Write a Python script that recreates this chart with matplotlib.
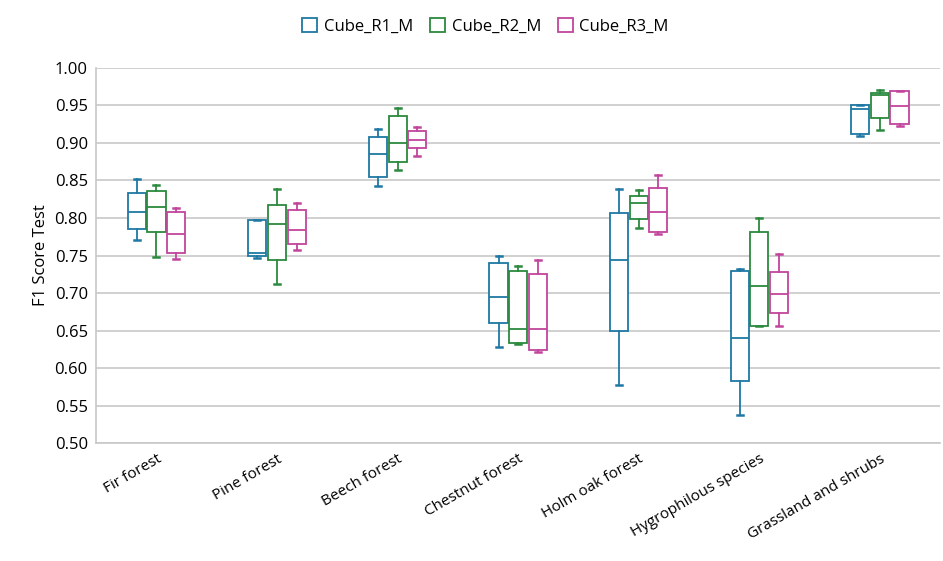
import numpy as np
import matplotlib.pyplot as plt
from matplotlib.patches import Patch

plt.rcParams['font.family'] = ['Open Sans', 'DejaVu Sans']

categories = ["Fir forest", "Pine forest", "Beech forest", "Chestnut forest",
              "Holm oak forest", "Hygrophilous species", "Grassland and shrubs"]
series = ["Cube_R1_M", "Cube_R2_M", "Cube_R3_M"]
colors = ["#1f78a4", "#2b8a3e", "#c2459c"]

# whisker low, Q1, median, Q3, whisker high
r1_lo  = [0.771, 0.747, 0.842, 0.628, 0.578, 0.538, 0.909]
r1_q1  = [0.785, 0.749, 0.855, 0.660, 0.649, 0.583, 0.912]
r1_med = [0.808, 0.753, 0.885, 0.695, 0.744, 0.640, 0.945]
r1_q3  = [0.833, 0.797, 0.908, 0.740, 0.807, 0.729, 0.951]
r1_hi  = [0.852, 0.797, 0.919, 0.749, 0.839, 0.732, 0.951]

r2_lo  = [0.748, 0.712, 0.864, 0.632, 0.787, 0.656, 0.917]
r2_q1  = [0.781, 0.744, 0.874, 0.633, 0.799, 0.656, 0.933]
r2_med = [0.814, 0.792, 0.900, 0.652, 0.820, 0.710, 0.964]
r2_q3  = [0.836, 0.817, 0.936, 0.729, 0.829, 0.781, 0.967]
r2_hi  = [0.844, 0.838, 0.946, 0.736, 0.837, 0.800, 0.970]

r3_lo  = [0.745, 0.757, 0.883, 0.621, 0.779, 0.656, 0.922]
r3_q1  = [0.754, 0.765, 0.893, 0.624, 0.781, 0.673, 0.925]
r3_med = [0.779, 0.784, 0.904, 0.652, 0.808, 0.699, 0.949]
r3_q3  = [0.808, 0.810, 0.916, 0.725, 0.840, 0.728, 0.969]
r3_hi  = [0.813, 0.820, 0.921, 0.744, 0.857, 0.752, 0.969]

all_series = [
    (r1_lo, r1_q1, r1_med, r1_q3, r1_hi),
    (r2_lo, r2_q1, r2_med, r2_q3, r2_hi),
    (r3_lo, r3_q1, r3_med, r3_q3, r3_hi),
]

fig = plt.figure(figsize=(9.43, 5.61), dpi=100)
ax = fig.add_axes([0.102, 0.21, 0.895, 0.669])

x = np.arange(len(categories))
offsets = [-0.163, 0, 0.163]
for s, (lo, q1, med, q3, hi) in enumerate(all_series):
    stats = [dict(whislo=lo[i], q1=q1[i], med=med[i], q3=q3[i], whishi=hi[i], fliers=[])
             for i in range(len(categories))]
    c = colors[s]
    ax.bxp(stats, positions=x + offsets[s], widths=0.15, capwidths=0.05,
           showfliers=False, patch_artist=True,
           boxprops=dict(facecolor="white", edgecolor=c, linewidth=1.3),
           medianprops=dict(color=c, linewidth=1.3),
           whiskerprops=dict(color=c, linewidth=1.3),
           capprops=dict(color=c, linewidth=1.8))

ax.set_xlim(-0.5, len(categories) - 0.5)
ax.set_ylim(0.5, 1.0)
ax.set_yticks(np.arange(0.5, 1.001, 0.05))
ax.set_yticklabels([f"{v:.2f}" for v in np.arange(0.5, 1.001, 0.05)], fontsize=12)
ax.set_xticks(x)
ax.set_xticklabels(categories, rotation=30, ha="right", rotation_mode="anchor", fontsize=11)
ax.tick_params(axis="both", length=0, pad=6)
ax.grid(axis="y", color="#c8c8c8", linewidth=1.2)
ax.set_axisbelow(True)
for side in ["top", "right"]:
    ax.spines[side].set_visible(False)
ax.spines["left"].set_color("#c8c8c8")
ax.spines["bottom"].set_color("#c8c8c8")
ax.spines["left"].set_linewidth(1.2)
ax.spines["bottom"].set_linewidth(1.2)
ax.set_ylabel("F1 Score Test", fontsize=12)

handles = [Patch(facecolor="white", edgecolor=c, linewidth=1.3, label=n) for n, c in zip(series, colors)]
fig.legend(handles=handles, loc="upper center", bbox_to_anchor=(0.515, 0.995), ncol=3,
           frameon=False, fontsize=12, handlelength=0.9, handleheight=0.9,
           handletextpad=0.4, columnspacing=1.0)

fig.savefig("out.png", dpi=100)
